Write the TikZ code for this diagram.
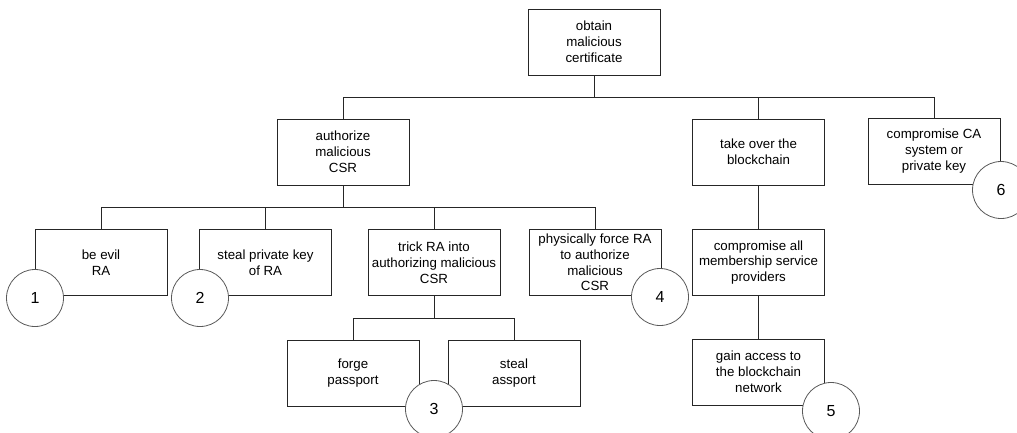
\documentclass[tikz,border=0pt]{standalone}
\usepackage{fontspec}
\setmainfont{Liberation Sans}
\tikzset{
  box/.style={draw=black!85, line width=0.9pt, minimum width=132pt, minimum height=66pt, inner sep=0pt, align=center, font=\fontsize{13.3}{15.8}\selectfont},
  num/.style={circle, draw=black!65, line width=0.8pt, fill=white, minimum size=57pt, inner sep=0pt, font=\fontsize{16}{18}\selectfont},
  link/.style={draw=black!85, line width=0.9pt}
}
\begin{document}
\begin{tikzpicture}[x=1pt,y=-1pt]
\useasboundingbox (0,0) rectangle (1017,432);
\node[box] (top) at (594,42) {obtain\\malicious\\certificate};
\node[box] (auth) at (343,152) {authorize\\malicious\\CSR};
\node[box] (take) at (758.5,152) {take over the\\blockchain};
\node[box] (ca) at (934,151) {compromise CA\\system or\\private key};
\node[box] (evil) at (101,262.5) {be evil\\RA};
\node[box] (key) at (265.5,262.5) {steal private key\\of RA};
\node[box] (trick) at (434,262.5) {trick RA into\\authorizing malicious\\CSR};
\node[box] (force) at (595,262.5) {physically force RA\\to authorize\\malicious\\CSR};
\node[box] (forge) at (353,373) {forge\\passport};
\node[box] (pass) at (514,373) {steal\\assport};
\node[box] (all) at (758.5,262.5) {compromise all\\membership service\\providers};
\node[box] (gain) at (758.5,372) {gain access to\\the blockchain\\network};
% connectors
\coordinate (j1) at (594,97);
\coordinate (j2) at (343,207);
\coordinate (j3) at (434,318);
\draw[link] (top.south) -- (j1);
\draw[link] (j1) -| (auth.north);
\draw[link] (j1) -| (take.north);
\draw[link] (j1) -| (ca.north);
\draw[link] (auth.south) -- (j2);
\draw[link] (j2) -| (evil.north);
\draw[link] (j2) -| (key.north);
\draw[link] (j2) -| (trick.north);
\draw[link] (j2) -| (force.north);
\draw[link] (trick.south) -- (j3);
\draw[link] (j3) -| (forge.north);
\draw[link] (j3) -| (pass.north);
\draw[link] (take.south) -- (all.north);
\draw[link] (all.south) -- (gain.north);
% numbers
\node[num] (n1) at (35,298) {1};
\node[num] (n2) at (200,298) {2};
\node[num] (n3) at (434,409) {3};
\node[num] (n4) at (660,297) {4};
\node[num] (n5) at (831,411) {5};
\node[num] (n6) at (1001,190) {6};
\end{tikzpicture}
\end{document}
